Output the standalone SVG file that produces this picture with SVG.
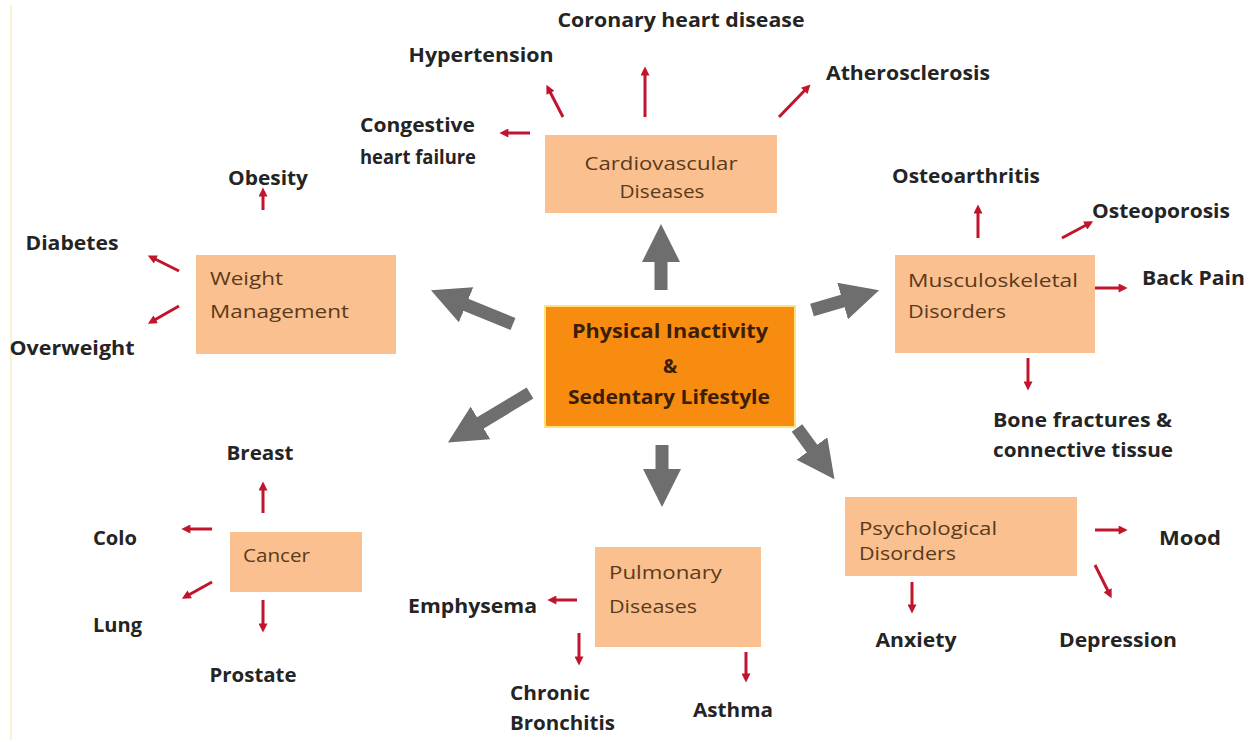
<svg xmlns="http://www.w3.org/2000/svg" width="1254" height="742" viewBox="0 0 1254 742">
  <style>
    .box { fill: #FAC08F; }
    .main { fill: #F78C10; stroke: #FFE27A; stroke-width: 2; }
    .btxt { font-family: "Open Sans", Lato, sans-serif; font-size: 19px; fill: #5A3A1C; }
    .mtxt { font-family: "Open Sans", Lato, sans-serif; font-size: 19px; font-weight: bold; fill: #3A1E08; text-anchor: middle; }
    .lbl { font-family: "Open Sans", Lato, sans-serif; font-size: 20px; font-weight: bold; fill: #242424; }
    .c { text-anchor: middle; }
    .e { text-anchor: end; }
    .ga { stroke: #6E6E6E; stroke-width: 13; fill: none; marker-end: url(#gh); }
    .ra { stroke: #C0152C; stroke-width: 3; fill: none; marker-end: url(#rh); }
  </style>
  <defs>
    <marker id="gh" viewBox="0 0 38 38" markerUnits="userSpaceOnUse" markerWidth="38" markerHeight="38" refX="1" refY="19" orient="auto">
      <path d="M0,0 L38,19 L0,38 z" fill="#6E6E6E"/>
    </marker>
    <marker id="rh" viewBox="0 0 10 10" markerUnits="userSpaceOnUse" markerWidth="10" markerHeight="9" refX="6" refY="5" orient="auto">
      <path d="M0,0 L10,5 L0,10 z" fill="#C0152C"/>
    </marker>
  </defs>
  <rect x="0" y="0" width="1254" height="742" fill="#FFFFFF"/>
  <line x1="11" y1="5" x2="11" y2="740" stroke="#FBF1D2" stroke-width="2"/>

  <g id="connectors">
    <!-- gray main arrows -->
    <line class="ga" x1="661" y1="290" x2="661" y2="261"/>
    <line class="ga" x1="513" y1="324" x2="465.2" y2="304.4"/>
    <line class="ga" x1="812" y1="310" x2="843.6" y2="300.7"/>
    <line class="ga" x1="530" y1="393" x2="479.6" y2="423.4"/>
    <line class="ga" x1="662" y1="445" x2="662" y2="470"/>
    <line class="ga" x1="797" y1="428" x2="812.6" y2="449.3"/>
    <!-- cardiovascular -->
    <line class="ra" x1="563" y1="117" x2="548" y2="88"/>
    <line class="ra" x1="645" y1="117" x2="645" y2="70"/>
    <line class="ra" x1="779" y1="117" x2="808" y2="87"/>
    <line class="ra" x1="530" y1="133" x2="503" y2="133"/>
    <!-- weight -->
    <line class="ra" x1="263" y1="210" x2="263" y2="191"/>
    <line class="ra" x1="179" y1="271" x2="151" y2="257"/>
    <line class="ra" x1="179" y1="306" x2="151" y2="322"/>
    <!-- musculoskeletal -->
    <line class="ra" x1="978" y1="238" x2="978" y2="208"/>
    <line class="ra" x1="1062" y1="238" x2="1090" y2="223"/>
    <line class="ra" x1="1095" y1="288" x2="1124" y2="288"/>
    <line class="ra" x1="1028" y1="358" x2="1028" y2="387"/>
    <!-- cancer -->
    <line class="ra" x1="263" y1="513" x2="263" y2="485"/>
    <line class="ra" x1="212" y1="529" x2="185" y2="529"/>
    <line class="ra" x1="212" y1="582" x2="185" y2="597"/>
    <line class="ra" x1="263" y1="600" x2="263" y2="629"/>
    <!-- pulmonary -->
    <line class="ra" x1="577" y1="600" x2="551" y2="600"/>
    <line class="ra" x1="579" y1="633" x2="579" y2="662"/>
    <line class="ra" x1="746" y1="652" x2="746" y2="679"/>
    <!-- psychological -->
    <line class="ra" x1="1095" y1="530" x2="1124" y2="530"/>
    <line class="ra" x1="1095" y1="565" x2="1110" y2="595"/>
    <line class="ra" x1="912" y1="582" x2="912" y2="610"/>
  </g>

  <g id="center">
    <rect class="main" x="545" y="306" width="250" height="121"/>
    <text class="mtxt" x="670" y="338" textLength="196" lengthAdjust="spacingAndGlyphs">Physical  Inactivity</text>
    <text class="mtxt" x="670" y="373">&amp;</text>
    <text class="mtxt" x="669" y="404" textLength="202" lengthAdjust="spacingAndGlyphs">Sedentary Lifestyle</text>
  </g>

  <g id="cardiovascular">
    <rect class="box" x="545" y="135" width="232" height="78"/>
    <text class="btxt c" x="661" y="170" textLength="153" lengthAdjust="spacingAndGlyphs">Cardiovascular</text>
    <text class="btxt c" x="662" y="198" textLength="85" lengthAdjust="spacingAndGlyphs">Diseases</text>
  </g>
  <g id="cardio-labels">
    <text class="lbl c" x="681" y="27" textLength="247" lengthAdjust="spacingAndGlyphs">Coronary heart disease</text>
    <text class="lbl c" x="481" y="62" textLength="145" lengthAdjust="spacingAndGlyphs">Hypertension</text>
    <text class="lbl c" x="908" y="80" textLength="164" lengthAdjust="spacingAndGlyphs">Atherosclerosis</text>
    <text class="lbl" x="360" y="132" textLength="115" lengthAdjust="spacingAndGlyphs">Congestive</text>
    <text class="lbl" x="360" y="164" textLength="116" lengthAdjust="spacingAndGlyphs">heart failure</text>
  </g>

  <g id="weight">
    <rect class="box" x="196" y="255" width="200" height="99"/>
    <text class="btxt" x="210" y="285" textLength="73" lengthAdjust="spacingAndGlyphs">Weight</text>
    <text class="btxt" x="210" y="318" textLength="139" lengthAdjust="spacingAndGlyphs">Management</text>
  </g>
  <g id="weight-labels">
    <text class="lbl c" x="268" y="185" textLength="80" lengthAdjust="spacingAndGlyphs">Obesity</text>
    <text class="lbl c" x="72" y="250" textLength="93" lengthAdjust="spacingAndGlyphs">Diabetes</text>
    <text class="lbl c" x="72" y="355" textLength="125" lengthAdjust="spacingAndGlyphs">Overweight</text>
  </g>

  <g id="musculoskeletal">
    <rect class="box" x="895" y="255" width="200" height="98"/>
    <text class="btxt" x="908" y="287" textLength="170" lengthAdjust="spacingAndGlyphs">Musculoskeletal</text>
    <text class="btxt" x="908" y="318" textLength="98" lengthAdjust="spacingAndGlyphs">Disorders</text>
  </g>
  <g id="musculo-labels">
    <text class="lbl c" x="966" y="183" textLength="148" lengthAdjust="spacingAndGlyphs">Osteoarthritis</text>
    <text class="lbl" x="1092" y="218" textLength="138" lengthAdjust="spacingAndGlyphs">Osteoporosis</text>
    <text class="lbl" x="1142" y="285" textLength="103" lengthAdjust="spacingAndGlyphs">Back Pain</text>
    <text class="lbl" x="993" y="427" textLength="179" lengthAdjust="spacingAndGlyphs">Bone fractures &amp;</text>
    <text class="lbl" x="993" y="457" textLength="180" lengthAdjust="spacingAndGlyphs">connective tissue</text>
  </g>

  <g id="cancer">
    <rect class="box" x="230" y="532" width="132" height="60"/>
    <text class="btxt" x="243" y="562" textLength="67" lengthAdjust="spacingAndGlyphs">Cancer</text>
  </g>
  <g id="cancer-labels">
    <text class="lbl c" x="260" y="460" textLength="67" lengthAdjust="spacingAndGlyphs">Breast</text>
    <text class="lbl" x="93" y="545" textLength="44" lengthAdjust="spacingAndGlyphs">Colo</text>
    <text class="lbl" x="93" y="632" textLength="49" lengthAdjust="spacingAndGlyphs">Lung</text>
    <text class="lbl c" x="253" y="682" textLength="87" lengthAdjust="spacingAndGlyphs">Prostate</text>
  </g>

  <g id="pulmonary">
    <rect class="box" x="595" y="547" width="166" height="100"/>
    <text class="btxt" x="609" y="579" textLength="113" lengthAdjust="spacingAndGlyphs">Pulmonary</text>
    <text class="btxt" x="609" y="613" textLength="88" lengthAdjust="spacingAndGlyphs">Diseases</text>
  </g>
  <g id="pulmonary-labels">
    <text class="lbl e" x="537" y="613" textLength="129" lengthAdjust="spacingAndGlyphs">Emphysema</text>
    <text class="lbl" x="510" y="700" textLength="80" lengthAdjust="spacingAndGlyphs">Chronic</text>
    <text class="lbl" x="510" y="730" textLength="105" lengthAdjust="spacingAndGlyphs">Bronchitis</text>
    <text class="lbl c" x="733" y="717" textLength="80" lengthAdjust="spacingAndGlyphs">Asthma</text>
  </g>

  <g id="psychological">
    <rect class="box" x="845" y="497" width="232" height="79"/>
    <text class="btxt" x="859" y="535" textLength="138" lengthAdjust="spacingAndGlyphs">Psychological</text>
    <text class="btxt" x="859" y="560" textLength="97" lengthAdjust="spacingAndGlyphs">Disorders</text>
  </g>
  <g id="psych-labels">
    <text class="lbl" x="1159" y="545" textLength="62" lengthAdjust="spacingAndGlyphs">Mood</text>
    <text class="lbl c" x="1118" y="647" textLength="118" lengthAdjust="spacingAndGlyphs">Depression</text>
    <text class="lbl c" x="916" y="647" textLength="81" lengthAdjust="spacingAndGlyphs">Anxiety</text>
  </g>
</svg>
